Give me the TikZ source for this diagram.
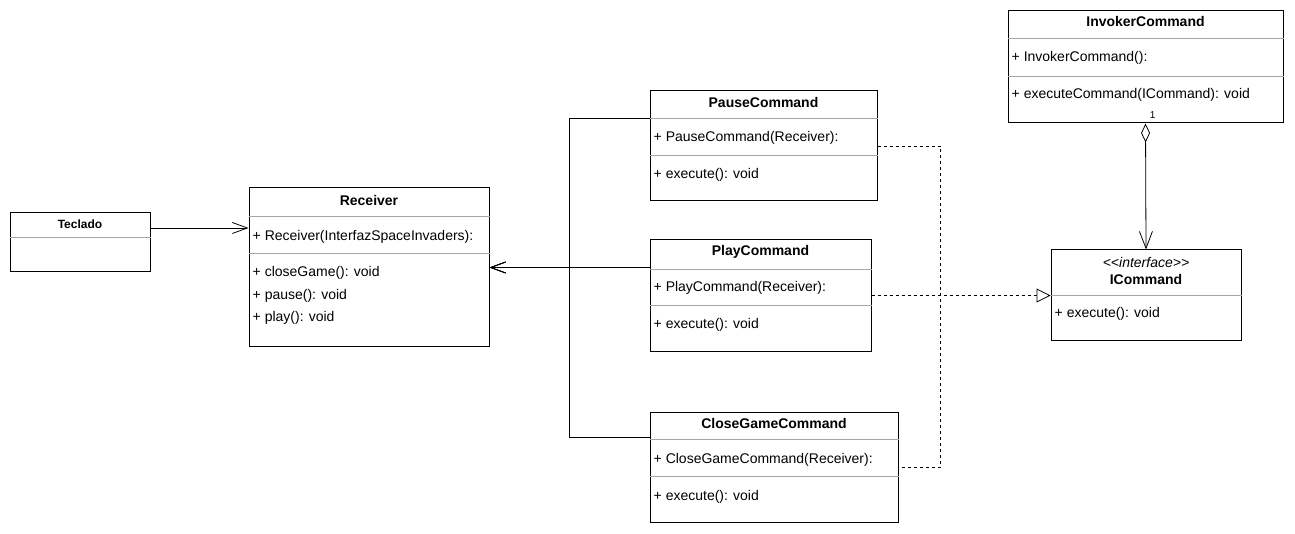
\documentclass[tikz,border=0pt]{standalone}
\usepackage{fontspec}
\setmainfont{Liberation Sans}
\usetikzlibrary{arrows.meta}

\tikzset{
  classbox/.style={draw, line width=1pt, inner sep=0pt},
  sepline/.style={draw=black!35, line width=0.8pt},
  title/.style={font=\fontsize{14}{16}\selectfont\bfseries, inner sep=0pt},
  member/.style={font=\fontsize{14}{16}\selectfont, anchor=west, inner sep=4pt, text height=10pt, text depth=3pt, yshift=-1.5pt},
  assoc/.style={-{Straight Barb[length=15pt,width=11pt]}, line width=0.8pt},
  realize/.style={dashed, -{Triangle[open,length=14pt,width=14pt,fill=white]}, line width=0.8pt},
  aggr/.style={{Diamond[open,length=19pt,width=9pt]}-{Straight Barb[length=17pt,width=13pt]}, line width=0.8pt}
}

\begin{document}
\begin{tikzpicture}[x=1pt, y=-1pt]
\useasboundingbox (0,0) rectangle (1295,534);

% class boxes
\path
(80,242.5) node[classbox, minimum width=140pt, minimum height=59pt] (teclado) {}
(369,267.5) node[classbox, minimum width=240pt, minimum height=159pt] (receiver) {}
(763.5,146) node[classbox, minimum width=227pt, minimum height=110pt] (pause) {}
(760.5,295.5) node[classbox, minimum width=221pt, minimum height=111pt] (play) {}
(774,467) node[classbox, minimum width=248pt, minimum height=110pt] (closegame) {}
(1145.5,67) node[classbox, minimum width=275pt, minimum height=112pt] (invoker) {}
(1146,295.5) node[classbox, minimum width=190pt, minimum height=91pt] (icommand) {};

% compartment lines
\draw[sepline] (teclado.west |- 0,237) -- (teclado.east |- 0,237);
\draw[sepline] (receiver.west |- 0,216) -- (receiver.east |- 0,216);
\draw[sepline] (receiver.west |- 0,253) -- (receiver.east |- 0,253);
\draw[sepline] (pause.west |- 0,118) -- (pause.east |- 0,118);
\draw[sepline] (pause.west |- 0,155) -- (pause.east |- 0,155);
\draw[sepline] (play.west |- 0,269) -- (play.east |- 0,269);
\draw[sepline] (play.west |- 0,305) -- (play.east |- 0,305);
\draw[sepline] (closegame.west |- 0,439) -- (closegame.east |- 0,439);
\draw[sepline] (closegame.west |- 0,476) -- (closegame.east |- 0,476);
\draw[sepline] (invoker.west |- 0,38) -- (invoker.east |- 0,38);
\draw[sepline] (invoker.west |- 0,76) -- (invoker.east |- 0,76);
\draw[sepline] (icommand.west |- 0,295) -- (icommand.east |- 0,295);

% titles
\node[title, font=\fontsize{12}{14}\selectfont\bfseries] (tecladotitle) at (teclado |- 0,224) {Teclado};
\node[title] (receivertitle) at (receiver |- 0,200) {Receiver};
\node[title] (pausetitle) at (pause |- 0,102) {PauseCommand};
\node[title] (playtitle) at (play |- 0,252) {PlayCommand};
\node[title] (closegametitle) at (closegame |- 0,423) {CloseGameCommand};
\node[title] (invokertitle) at (invoker |- 0,22) {InvokerCommand};
\node[title, font=\fontsize{14}{16}\selectfont\itshape] (stereotype) at (icommand |- 0,262) {{<}{<}interface{>}{>}};
\node[title] (icommandtitle) at (icommand |- 0,279) {ICommand};

% members
\node[member] (receiverctor) at (receiver.west |- 0,236) {+ Receiver(InterfazSpaceInvaders):};
\node[member] (closegamem) at (receiver.west |- 0,272) {+ closeGame(): void};
\node[member] (pausem) at (receiver.west |- 0,295) {+ pause(): void};
\node[member] (playm) at (receiver.west |- 0,317) {+ play(): void};
\node[member] (pausector) at (pause.west |- 0,137) {+ PauseCommand(Receiver):};
\node[member] (pauseexec) at (pause.west |- 0,174) {+ execute(): void};
\node[member] (playctor) at (play.west |- 0,287) {+ PlayCommand(Receiver):};
\node[member] (playexec) at (play.west |- 0,324) {+ execute(): void};
\node[member] (closegamector) at (closegame.west |- 0,458) {+ CloseGameCommand(Receiver):};
\node[member] (closegameexec) at (closegame.west |- 0,495) {+ execute(): void};
\node[member] (invokerctor) at (invoker.west |- 0,57) {+ InvokerCommand():};
\node[member] (invokerexec) at (invoker.west |- 0,94) {+ executeCommand(ICommand): void};
\node[member] (icommandexec) at (icommand.west |- 0,313) {+ execute(): void};

%% connectors
\draw[assoc] (teclado.east |- 0,228) -- (receiver.west |- 0,228);
\draw[assoc] (pause.west |- 0,118) -- ++(-80,0) |- (receiver.east);
\draw[assoc] (play.west |- receiver.east) -- (receiver.east);
\draw[assoc] (closegame.west |- 0,437) -- ++(-80,0) |- (receiver.east);

\draw[line width=0.8pt, dashed] (pause.east) -- ++(63,0) |- (closegame.east);
\draw[realize] (play.east) -- (icommand.west);

\draw[aggr] (invoker.south) -- (icommand.north)
  node[pos=0, anchor=south west, font=\fontsize{10}{12}\selectfont, inner sep=1pt, xshift=3pt, yshift=4pt] (mult) {1};

\end{tikzpicture}
\end{document}
